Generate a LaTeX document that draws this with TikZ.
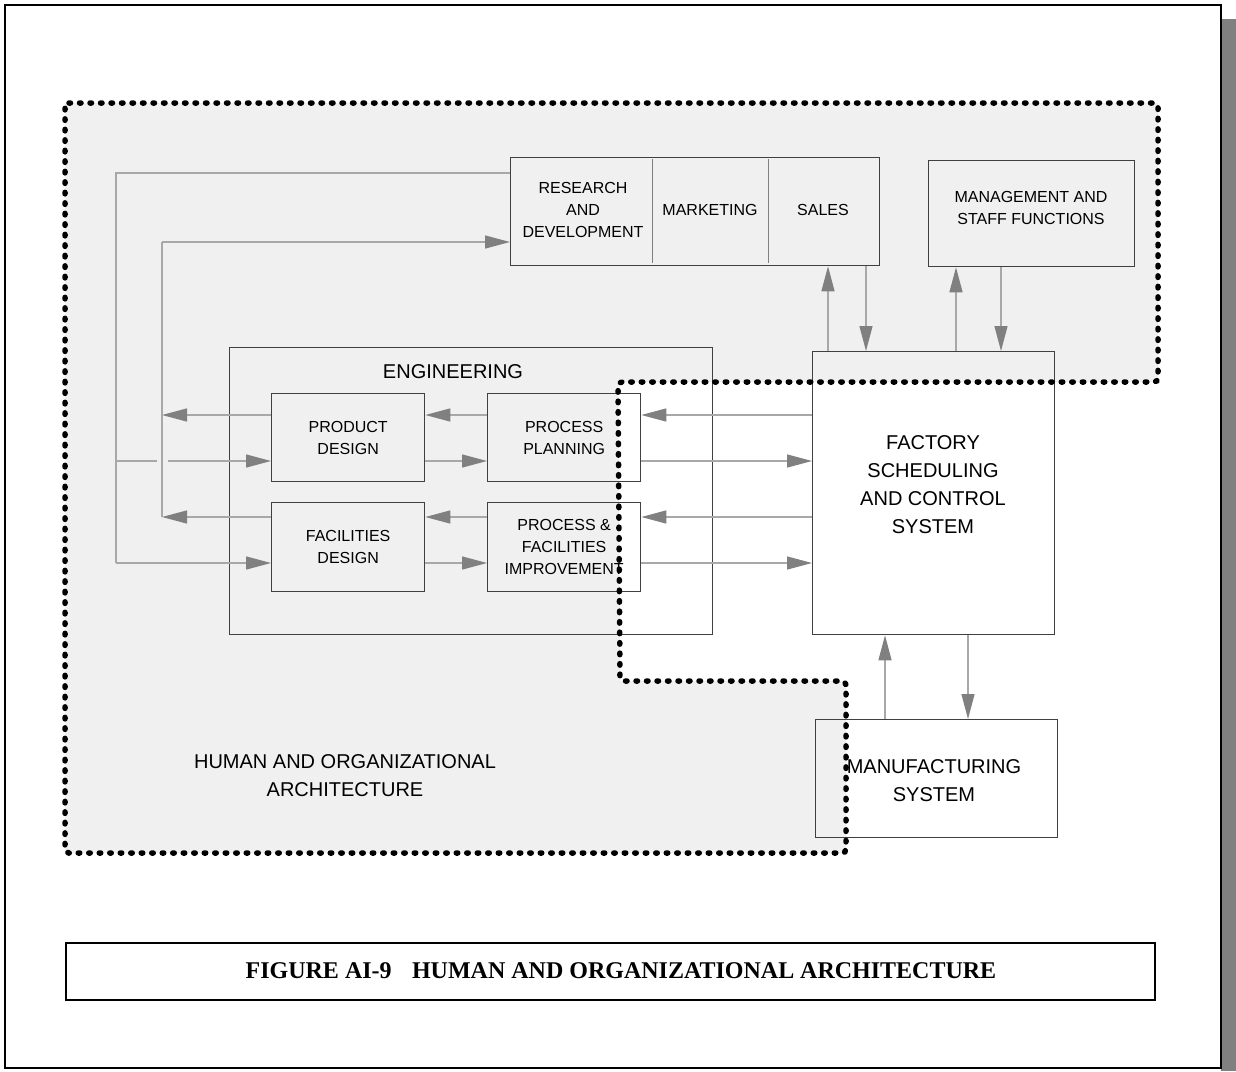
\documentclass[tikz,border=0pt]{standalone}
\usepackage{fontspec}
\setmainfont{Liberation Sans}
\newfontfamily\capfont{Liberation Serif}
\usetikzlibrary{arrows.meta}
\definecolor{zonefill}{HTML}{F0F0F0}
\definecolor{linkgray}{HTML}{A8A8A8}
\definecolor{headgray}{HTML}{808080}
\definecolor{boxline}{HTML}{404040}
\begin{document}
\begin{tikzpicture}[x=1pt,y=-1pt,
  box/.style={draw=boxline,line width=1.3pt,inner sep=0pt,anchor=north west},
  lbl/.style={font=\fontsize{16}{22}\selectfont,align=center,inner sep=0pt},
  biglbl/.style={font=\fontsize{20}{28}\selectfont,align=center,inner sep=0pt},
  link/.style={draw=linkgray,line width=1.3pt,
    -{Triangle[length=25pt,width=13pt,color=headgray,fill=headgray]}},
  plainlink/.style={draw=linkgray,line width=1.3pt},
  zone/.style={draw=black,line width=5.5pt,line cap=round,
    dash pattern=on 1.5pt off 9pt,rounded corners=4pt}]
\useasboundingbox (0,0) rectangle (1236,1071);
% page shadow and frame
\fill[headgray] (1221,19) rectangle (1236,1071);
\draw[black,line width=2.2pt] (5,5) rectangle (1221,1068);

% shaded organisational zone
\fill[zonefill] (65,103) -- (1158,103) -- (1158,382) -- (618,382)
  -- (620,681) -- (846,681) -- (846,853) -- (65,853) -- cycle;

% boxes
\node[box,minimum width=369pt,minimum height=108pt] (top) at (510,157) {};
\draw[headgray,line width=1pt] (652,159) -- (652,263) (768,159) -- (768,263);
\node[lbl] (rd) at (583,210) {RESEARCH\\AND\\DEVELOPMENT};
\node[lbl] (mk) at (710,210) {MARKETING};
\node[lbl] (sl) at (823,210) {SALES};

\node[box,minimum width=206pt,minimum height=106pt] (mgmt) at (928,160) {};
\node[lbl] (mgmtl) at (1031,208) {MANAGEMENT AND\\STAFF FUNCTIONS};

\node[box,minimum width=483pt,minimum height=287pt] (eng) at (229,347) {};
\node[biglbl] (engl) at (453,372) {ENGINEERING};

\node[box,minimum width=153pt,minimum height=88pt] (pd) at (271,393) {};
\node[lbl] at (pd.center) {PRODUCT\\DESIGN};
\node[box,minimum width=153pt,minimum height=89pt] (fd) at (271,502) {};
\node[lbl] at (fd.center) {FACILITIES\\DESIGN};
\node[box,minimum width=153pt,minimum height=88pt] (pp) at (487,393) {};
\node[lbl] at (pp.center) {PROCESS\\PLANNING};
\node[box,minimum width=153pt,minimum height=89pt] (pf) at (487,502) {};
\node[lbl] at (pf.center) {PROCESS \&\\FACILITIES\\IMPROVEMENT};

\node[box,minimum width=242pt,minimum height=283pt] (fac) at (812,351) {};
\node[biglbl] at (933,485) {FACTORY\\SCHEDULING\\AND CONTROL\\SYSTEM};

\node[box,minimum width=242pt,minimum height=118pt] (mfg) at (815,719) {};
\node[biglbl] at (934,781) {MANUFACTURING\\SYSTEM};

\node[biglbl] (hoa) at (345,776) {HUMAN AND ORGANIZATIONAL\\ARCHITECTURE};

% zone outline drawn over the boxes
\draw[zone] (65,103) -- (1158,103) -- (1158,382) -- (618,382)
  -- (620,681) -- (846,681) -- (846,853) -- (65,853) -- cycle;

% caption
\node[box,draw=black,line width=1.6pt,minimum width=1089pt,minimum height=57pt] (cap) at (65,942) {};
\node[font=\capfont\bfseries\fontsize{24}{28}\selectfont,inner sep=0pt] (capl) at (621,971)
  {FIGURE AI-9\hspace{0.85em}HUMAN AND ORGANIZATIONAL ARCHITECTURE};

% feedback loops on the left
\coordinate (l1) at (116,173);
\coordinate (l2) at (116,563);
\coordinate (r1) at (162,242);
\coordinate (r2) at (162,517);
\coordinate (r3) at (162,415);
\coordinate (g1) at (157,461);
\coordinate (g2) at (168,461);
\draw[plainlink] (top.west |- 0,173) -- (l1) -- (l2);
\draw[link] (l2) -- (fd.west |- 0,563);
\draw[plainlink] (116,461) -- (g1);
\draw[link] (g2) -- (pd.west |- 0,461);
\draw[link] (pd.west |- 0,415) -- (r3);
\draw[link] (fd.west |- 0,517) -- (r2);
\draw[plainlink] (r2) -- (r1);
\draw[link] (r1) -- (top.west |- 0,242);

% engineering internal links
\draw[link] (pp.west |- 0,415) -- (pd.east |- 0,415);
\draw[link] (pd.east |- 0,461) -- (pp.west |- 0,461);
\draw[link] (pf.west |- 0,517) -- (fd.east |- 0,517);
\draw[link] (fd.east |- 0,563) -- (pf.west |- 0,563);

% factory to engineering
\draw[link] (fac.west |- 0,415) -- (pp.east |- 0,415);
\draw[link] (pp.east |- 0,461) -- (fac.west |- 0,461);
\draw[link] (fac.west |- 0,517) -- (pf.east |- 0,517);
\draw[link] (pf.east |- 0,563) -- (fac.west |- 0,563);

% factory to sales and management
\draw[link] (fac.north -| 828,0) -- (top.south -| 828,0);
\draw[link] (top.south -| 866,0) -- (fac.north -| 866,0);
\draw[link] (fac.north -| 956,0) -- (mgmt.south -| 956,0);
\draw[link] (mgmt.south -| 1001,0) -- (fac.north -| 1001,0);

% factory to manufacturing
\draw[link] (mfg.north -| 885,0) -- (fac.south -| 885,0);
\draw[link] (fac.south -| 968,0) -- (mfg.north -| 968,0);
\end{tikzpicture}
\end{document}
